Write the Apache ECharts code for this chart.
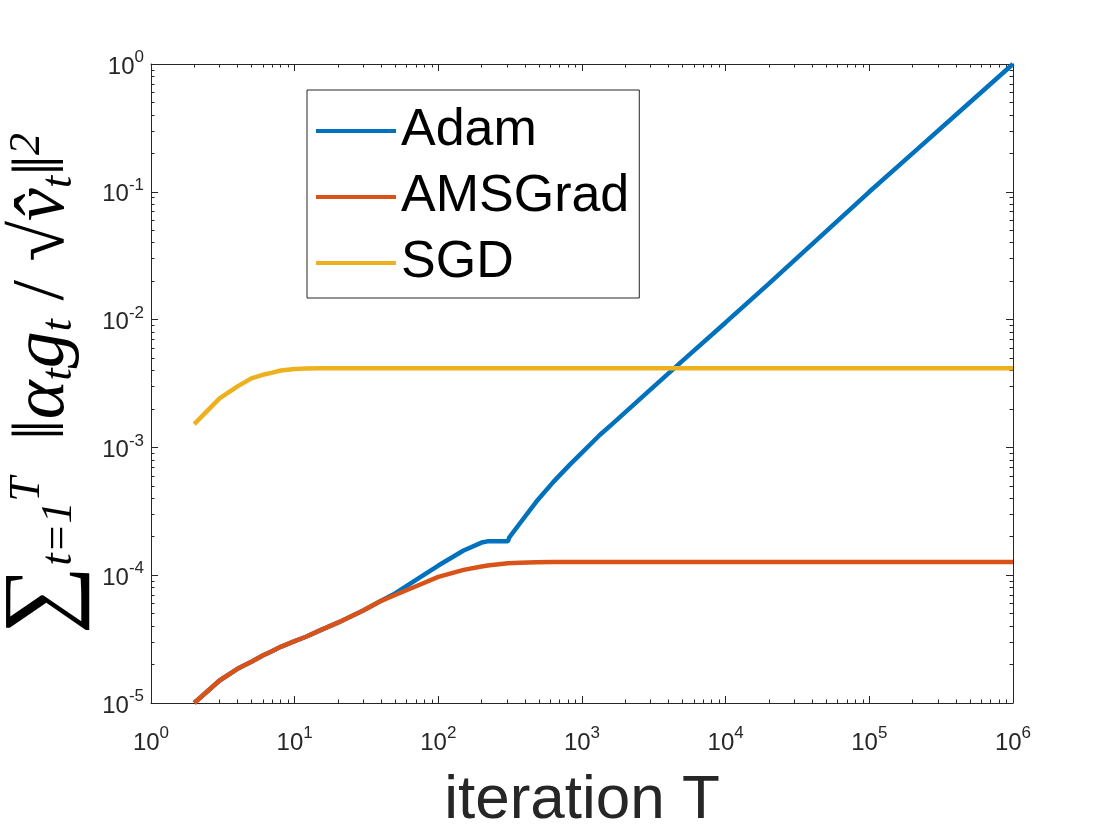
<!DOCTYPE html>
<html>
<head>
<meta charset="utf-8">
<script src="https://cdn.jsdelivr.net/npm/echarts@6/dist/echarts.min.js"></script>
<style>
  html, body { margin: 0; padding: 0; background: #fff; }
  #main { width: 1120px; height: 840px; }
</style>
</head>
<body>
<div id="main"></div>
<script>
// iteration T (x) and the three curves
var iters = [2, 3, 4, 5, 6, 7, 8, 10, 12, 15, 20, 30, 40,
  50, 70, 100, 150, 200, 220, 305, 312, 370, 480, 630,
  820, 1000, 1330, 1650, 2800, 5000, 1e4, 2e4, 5e4, 1e5, 2e5, 5e5, 1e6];
var adam = [1.0e-5, 1.5e-5, 1.85e-5, 2.1e-5, 2.35e-5, 2.55e-5, 2.75e-5, 3.05e-5, 3.3e-5, 3.7e-5, 4.25e-5, 5.3e-5, 6.3e-5,
  7.2e-5, 9.2e-5, 1.19e-4, 1.56e-4, 1.8e-4, 1.84e-4, 1.84e-4, 1.98e-4, 2.55e-4, 3.75e-4, 5.35e-4,
  7.3e-4, 9.1e-4, 1.25e-3, 1.55e-3, 2.65e-3, 4.75e-3, 9.5e-3, 1.91e-2, 4.9e-2, 0.1, 0.2, 0.5, 1.0];
var amsgrad = [1.0e-5, 1.5e-5, 1.85e-5, 2.1e-5, 2.35e-5, 2.55e-5, 2.75e-5, 3.05e-5, 3.3e-5, 3.7e-5, 4.25e-5, 5.3e-5, 6.3e-5,
  7.0e-5, 8.2e-5, 9.7e-5, 1.1e-4, 1.17e-4, 1.19e-4, 1.24e-4, 1.24e-4, 1.25e-4, 1.26e-4, 1.27e-4,
  1.27e-4, 1.27e-4, 1.27e-4, 1.27e-4, 1.27e-4, 1.27e-4, 1.27e-4, 1.27e-4, 1.27e-4, 1.27e-4, 1.27e-4, 1.27e-4, 1.27e-4];
var sgd = [1.52e-3, 2.42e-3, 3.0e-3, 3.47e-3, 3.7e-3, 3.85e-3, 4.0e-3, 4.1e-3, 4.14e-3, 4.16e-3, 4.17e-3, 4.17e-3, 4.17e-3,
  4.17e-3, 4.17e-3, 4.17e-3, 4.17e-3, 4.17e-3, 4.17e-3, 4.17e-3, 4.17e-3, 4.17e-3, 4.17e-3, 4.17e-3,
  4.17e-3, 4.17e-3, 4.17e-3, 4.17e-3, 4.17e-3, 4.17e-3, 4.17e-3, 4.17e-3, 4.17e-3, 4.17e-3, 4.17e-3, 4.17e-3, 4.17e-3];

var names = ['Adam', 'AMSGrad', 'SGD'];
var colors = ['#0072BD', '#D95319', '#EDB120'];

// decade ticks (exponents)
var xTickExp = [0, 1, 2, 3, 4, 5, 6];
var yTickExp = [-5, -4, -3, -2, -1, 0];

function decades(exps) {
  return exps.map(function (e) { return Math.pow(10, e); });
}
function minors(exps) {
  var out = [];
  for (var i = 0; i < exps.length - 1; i++) {
    for (var m = 2; m <= 9; m++) out.push(m * Math.pow(10, exps[i]));
  }
  return out;
}

var axisColor = '#262626';
var tickFont = 'Liberation Sans, Arial, Helvetica, sans-serif';
var labelRich = {
  b: { fontSize: 24, fontFamily: tickFont, color: axisColor, lineHeight: 30, verticalAlign: 'bottom' },
  e: { fontSize: 17, fontFamily: tickFont, color: axisColor, lineHeight: 18, verticalAlign: 'top' }
};
function powLabel(v) {
  return '{b|10}{e|' + Math.round(Math.log10(v)) + '}';
}

function makeAxis(dim, pos, major, labels) {
  var exps = dim === 'x' ? xTickExp : yTickExp;
  var ax = {
    type: 'log',
    position: pos,
    min: Math.pow(10, exps[0]),
    max: Math.pow(10, exps[exps.length - 1]),
    logBase: 10,
    splitLine: { show: false },
    axisLine: { show: major, onZero: false, lineStyle: { color: axisColor, width: 1 } },
    axisTick: {
      show: true,
      inside: true,
      length: major ? 7 : 3.5,
      customValues: major ? decades(exps) : minors(exps),
      lineStyle: { color: axisColor, width: 1 }
    },
    axisLabel: { show: false }
  };
  if (labels) {
    ax.axisLabel = {
      show: true,
      customValues: decades(exps),
      formatter: powLabel,
      rich: labelRich,
      margin: dim === 'x' ? 22 : 7
    };
  }
  return ax;
}

var xAxes = [
  makeAxis('x', 'bottom', true, true),
  makeAxis('x', 'bottom', false, false),
  makeAxis('x', 'top', true, false),
  makeAxis('x', 'top', false, false)
];
xAxes[0].name = 'iteration T';
xAxes[0].nameLocation = 'middle';
xAxes[0].nameGap = 67;
xAxes[0].nameTextStyle = { fontSize: 62, fontFamily: tickFont, color: axisColor };

var yAxes = [
  makeAxis('y', 'left', true, true),
  makeAxis('y', 'left', false, false),
  makeAxis('y', 'right', true, false),
  makeAxis('y', 'right', false, false)
];
var mathFont = 'Liberation Serif, DejaVu Serif, serif';
yAxes[0].name = '{s|∑}{sub|t=1}{sup|T}{n|  ‖}{i|α}{sub|t}{i|g}{sub|t}{n| / √}{i|v̂}{sub|t}{n|‖}{sup|2}';
yAxes[0].nameLocation = 'middle';
yAxes[0].nameRotate = 90;
yAxes[0].nameGap = 68;
yAxes[0].nameTextStyle = {
  color: '#000',
  rich: {
    s: { fontSize: 96, fontFamily: mathFont, color: '#000', lineHeight: 76, verticalAlign: 'middle' },
    n: { fontSize: 74, fontFamily: mathFont, color: '#000', lineHeight: 76, verticalAlign: 'middle' },
    i: { fontSize: 74, fontFamily: mathFont, fontStyle: 'italic', color: '#000', lineHeight: 76, verticalAlign: 'middle' },
    sub: { fontSize: 44, fontFamily: mathFont, fontStyle: 'italic', color: '#000', lineHeight: 42, verticalAlign: 'bottom' },
    sup: { fontSize: 44, fontFamily: mathFont, fontStyle: 'italic', color: '#000', lineHeight: 42, verticalAlign: 'top' }
  }
};

function pairs(ys) {
  return iters.map(function (t, i) { return [t, ys[i]]; });
}
var curves = [adam, amsgrad, sgd];

var chart = echarts.init(document.getElementById('main'), null, { renderer: 'canvas' });
chart.setOption({
  animation: false,
  backgroundColor: '#fff',
  grid: { left: 151, right: 107, top: 64, bottom: 137, containLabel: false, outerBoundsMode: 'none' },
  legend: {
    data: names,
    orient: 'vertical',
    left: 307,
    top: 90,
    icon: 'rect',
    itemWidth: 80,
    itemHeight: 4,
    itemGap: 0,
    padding: [8, 10, 2, 9],
    borderColor: axisColor,
    borderWidth: 1,
    backgroundColor: '#fff',
    textStyle: { fontSize: 52, lineHeight: 66, fontFamily: tickFont, color: '#000' }
  },
  xAxis: xAxes,
  yAxis: yAxes,
  series: names.map(function (n, i) {
    return {
      name: n,
      type: 'line',
      xAxisIndex: 0,
      yAxisIndex: 0,
      symbol: 'none',
      color: colors[i],
      lineStyle: { width: 4.5, color: colors[i] },
      data: pairs(curves[i])
    };
  })
});
</script>
</body>
</html>
